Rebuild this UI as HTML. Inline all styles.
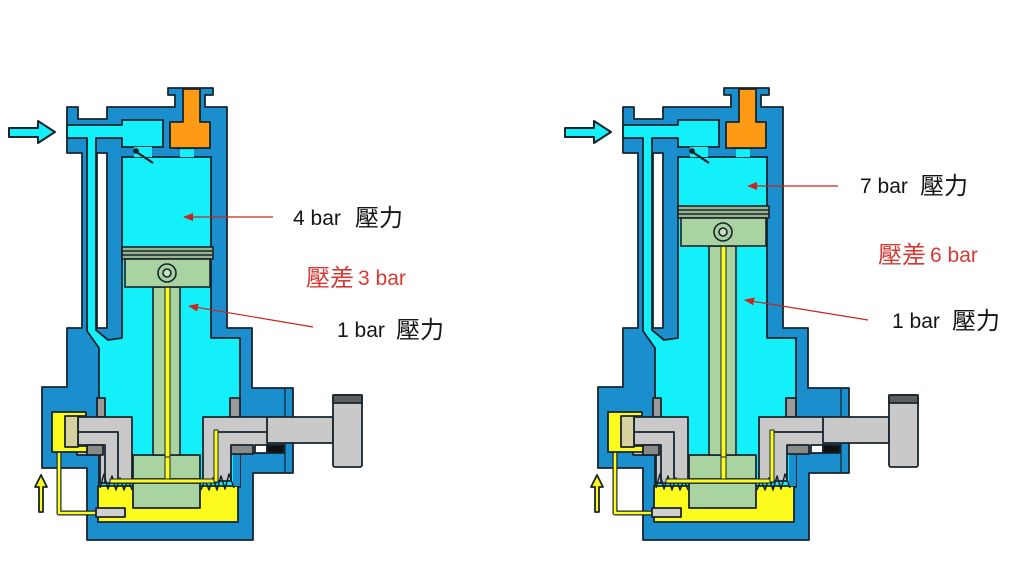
<!DOCTYPE html>
<html><head><meta charset="utf-8"><style>
html,body{margin:0;padding:0;background:#fff;}
svg{display:block;}
.t{font-family:"Liberation Sans","Noto Sans CJK TC",sans-serif;font-size:21px;fill:#151515;}
.c{font-family:"Liberation Sans","Noto Sans CJK TC",sans-serif;font-size:24px;fill:#151515;}
.r{fill:#d43b35;}
</style></head><body>
<svg width="1024" height="577" viewBox="0 0 1024 577" xmlns="http://www.w3.org/2000/svg">
<defs>
<marker id="ah" markerWidth="10" markerHeight="8" refX="9" refY="4" orient="auto" markerUnits="userSpaceOnUse">
<path d="M0,0 L10,4 L0,8 z" fill="#c8261e"/>
</marker>
<g id="body" stroke="#18242c" stroke-width="1.8" stroke-linejoin="round">
<!-- blue silhouette -->
<polygon fill="#1b8fcd" points="67,107 78,107 78,119 107,119 107,107 175,107 175,95 168,95 168,88 213,88 213,95 205,95 205,107 227,107 227,328 252,328 252,388 293,388 293,473 253,473 253,540 87,540 87,468 42,468 42,387 67,387 67,328 82,328 82,153 67,153"/>
<!-- cyan interior -->
<polygon fill="#14f0fa" points="67,125 122,125 122,120 163,120 163,147 122,147 122,138 96,138 96,330 108,340 122,338 122,157 211,157 211,338 240,338 240,487 99,487 99,348 87,331 87,138 67,138"/>
<!-- white gap -->
<rect x="97" y="153" width="10" height="175" fill="#fff"/>
<!-- valve ports -->
<rect x="134" y="147" width="18" height="10" fill="#14f0fa" stroke="none"/>
<line x1="135" y1="151" x2="153" y2="163" stroke-width="2.2"/>
<circle cx="136" cy="151" r="2" fill="#18242c"/>
<rect x="180" y="148" width="14" height="9" fill="#14f0fa" stroke="none"/>
<line x1="176" y1="148" x2="197" y2="148" stroke-width="2.2"/>
<!-- orange -->
<polygon fill="#ff9a14" points="183,89 200,89 200,122 210,122 210,148 170,148 170,122 183,122"/>
<!-- right body strip -->
<line x1="285" y1="388" x2="285" y2="473" stroke-width="1.2"/>
<!-- seals -->
<rect x="97" y="398" width="8" height="19" fill="#9a9a9a"/>
<rect x="230" y="398" width="10" height="19" fill="#9a9a9a"/>
<!-- yellow pool -->
<rect x="98" y="486" width="140" height="36" fill="#fdfb1e"/>
<!-- lower right blue under gray -->
<rect x="233" y="453" width="7" height="33" fill="#1b8fcd" stroke="none"/>
<!-- gray left -->
<polygon fill="#c9c9c9" points="77,417 132,417 132,483 100,483 100,455 77,455"/>
<polyline fill="none" points="77,432 118,432 118,483"/>
<polyline fill="none" points="77,445 105,445 105,483"/>
<rect x="87" y="445" width="16" height="10" fill="#8a8a8a"/>
<!-- gray right -->
<polygon fill="#c9c9c9" points="203,417 268,417 268,453 231,453 231,481 203,481"/>
<polyline fill="none" points="268,432 215,432 215,481"/>
<rect x="231" y="445" width="22" height="9" fill="#8a8a8a"/>
<rect x="255" y="445" width="12" height="8" fill="#fff"/>
<rect x="267" y="445" width="17" height="8" fill="#111"/>
<!-- shaft & cap -->
<rect x="267" y="417" width="66" height="26" fill="#c9c9c9"/>
<rect x="333" y="395" width="29" height="72" rx="2" fill="#c9c9c9"/>
<rect x="333" y="395" width="29" height="8" fill="#5e5e5e"/>
<!-- springs -->
<polyline fill="none" stroke-width="1.5" points="100,488 104,474 108,489 112,476 116,490 120,478 124,490 128,480 132,490"/>
<polyline fill="none" stroke-width="1.5" points="201,490 205,480 209,490 213,478 217,490 221,476 225,489 229,474 234,488"/>
<!-- crosshead -->
<rect x="133" y="455" width="67" height="24" fill="#a9d3a0"/>
<rect x="133" y="483" width="67" height="25" fill="#a9d3a0"/>
<rect x="165" y="455" width="5" height="26" fill="#fdfb1e" stroke-width="1"/>
<rect x="110" y="479" width="107" height="4" fill="#fdfb1e" stroke-width="1"/>
<rect x="214" y="430" width="4" height="52" fill="#fdfb1e" stroke-width="1"/>
<!-- left yellow parts -->
<path d="M59,451 V513 H99" fill="none" stroke-width="5"/>
<path d="M59,451 V513 H99" fill="none" stroke="#fdfb1e" stroke-width="2.6"/>
<polygon fill="#fdfb1e" points="52,412 86,412 86,416 78,416 78,446 87,446 87,452 52,452"/>
<rect x="65" y="416" width="13" height="31" fill="#d6d2a0"/>
<rect x="96" y="508" width="29" height="9" fill="#cfcfcf"/>
<!-- yellow arrow -->
<polygon fill="#fdfb1e" points="39,512 43,512 43,487 47,487 41,475 35,487 39,487"/>
<!-- inlet arrow -->
<polygon fill="#14f0fa" stroke-width="2" points="9,128 38,128 38,121 55,132 38,143 38,137 9,137"/>
</g>
<g id="piston" stroke="#18242c" stroke-width="1.6">
<rect x="122" y="247" width="91" height="12" fill="#98b48e"/>
<line x1="122" y1="251" x2="213" y2="251" stroke-width="1.4"/>
<line x1="122" y1="255" x2="213" y2="255" stroke-width="1.4"/>
<rect x="125" y="259" width="85" height="28" fill="#a9d3a0"/>
<circle cx="167" cy="273" r="9" fill="#a9d3a0"/>
<circle cx="167" cy="273" r="4" fill="#c8e0c0"/>
</g>
</defs>

<use href="#body"/>
<g stroke="#18242c" stroke-width="1.6">
<rect x="153" y="287" width="27" height="168" fill="#a9d3a0"/>
<rect x="165" y="282" width="5" height="175" fill="#fdfb1e" stroke-width="1"/>
</g>
<use href="#piston"/>

<g transform="translate(556,0)">
<use href="#body"/>
<g stroke="#18242c" stroke-width="1.6">
<rect x="153" y="246" width="27" height="209" fill="#a9d3a0"/>
<rect x="165" y="241" width="5" height="216" fill="#fdfb1e" stroke-width="1"/>
</g>
<use href="#piston" transform="translate(0,-41)"/>
</g>

<!-- annotation arrows -->
<g stroke="#c8261e" stroke-width="1.2" fill="none">
<line x1="273" y1="217" x2="184" y2="217" marker-end="url(#ah)"/>
<line x1="313" y1="327" x2="189" y2="306" marker-end="url(#ah)"/>
<line x1="838" y1="186" x2="748" y2="186" marker-end="url(#ah)"/>
<line x1="868" y1="320" x2="745" y2="300" marker-end="url(#ah)"/>
</g>

<!-- labels -->
<text class="t" x="293" y="225">4 bar</text><text class="c" x="355" y="226">壓力</text>
<text class="c r" x="306" y="286">壓差</text><text class="t r" x="358" y="285">3 bar</text>
<text class="t" x="337" y="337">1 bar</text><text class="c" x="396" y="338">壓力</text>

<text class="t" x="860" y="193">7 bar</text><text class="c" x="920" y="194">壓力</text>
<text class="c r" x="878" y="263">壓差</text><text class="t r" x="930" y="262">6 bar</text>
<text class="t" x="892" y="328">1 bar</text><text class="c" x="952" y="329">壓力</text>
</svg>
</body></html>
